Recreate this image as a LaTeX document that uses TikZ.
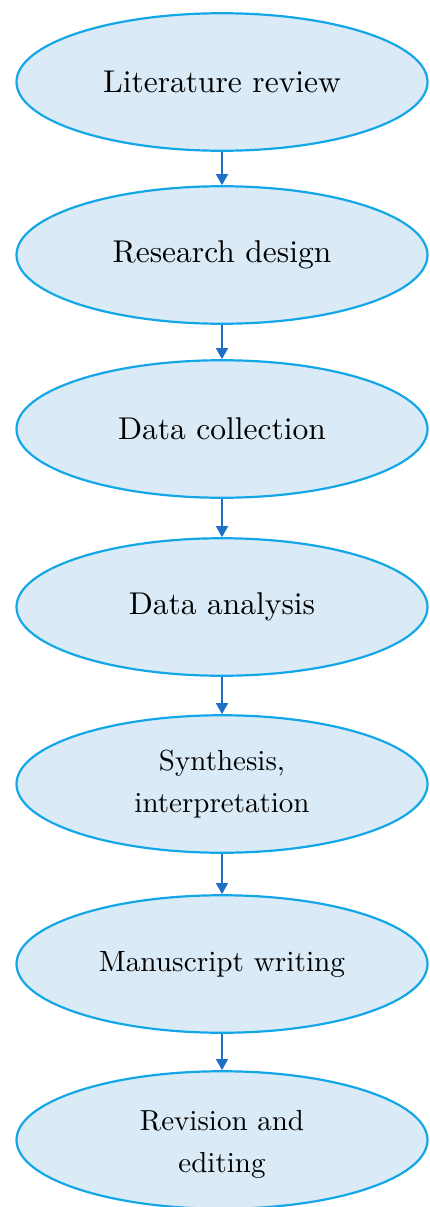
\documentclass[tikz,border=0pt]{standalone}
\usepackage{fontspec}
\setmainfont{lmroman10-regular}[Extension=.otf]
\usetikzlibrary{shapes.geometric,arrows.meta}
\definecolor{edgeblue}{HTML}{14A7E8}
\definecolor{fillblue}{HTML}{DAEAF7}
\definecolor{arrowblue}{HTML}{1F6FC8}
\tikzset{
  stage/.style={ellipse, draw=edgeblue, fill=fillblue, line width=2.2pt,
    minimum width=411pt, minimum height=137.5pt, inner sep=0pt, align=center,
    font=\fontsize{31.5}{42}\selectfont, text=black},
  stagetwo/.style={stage, font=\fontsize{29}{42}\selectfont},
  flow/.style={draw=arrowblue, line width=1.3pt, -{Triangle[length=11pt,width=12pt]}}
}
\begin{document}
\begin{tikzpicture}[x=1pt,y=-1pt]
\useasboundingbox (0,0) rectangle (429,1207);
\node[stage] (lit) at (222,82) {Literature review};
\node[stage] (des) at (222,255) {Research design};
\node[stage] (col) at (222,429) {Data collection};
\node[stage] (ana) at (222,607) {Data analysis};
\node[stagetwo] (syn) at (222,784) {Synthesis,\\interpretation};
\node[stage, font=\fontsize{29.3}{42}\selectfont] (man) at (222,964) {Manuscript writing};
\node[stage] (rev) at (222,1140) {};
\begin{scope}
\clip (0,1000) rectangle (429,1179);
\node[stagetwo, draw=none, fill=none, yshift=-4pt] (revtext) at (rev.center) {Revision and\\editing};
\end{scope}
\draw[flow] (lit.south) -- (des.north);
\draw[flow] (des.south) -- (col.north);
\draw[flow] (col.south) -- (ana.north);
\draw[flow] (ana.south) -- (syn.north);
\draw[flow] (syn.south) -- (man.north);
\draw[flow] (man.south) -- (rev.north);
\end{tikzpicture}
\end{document}
